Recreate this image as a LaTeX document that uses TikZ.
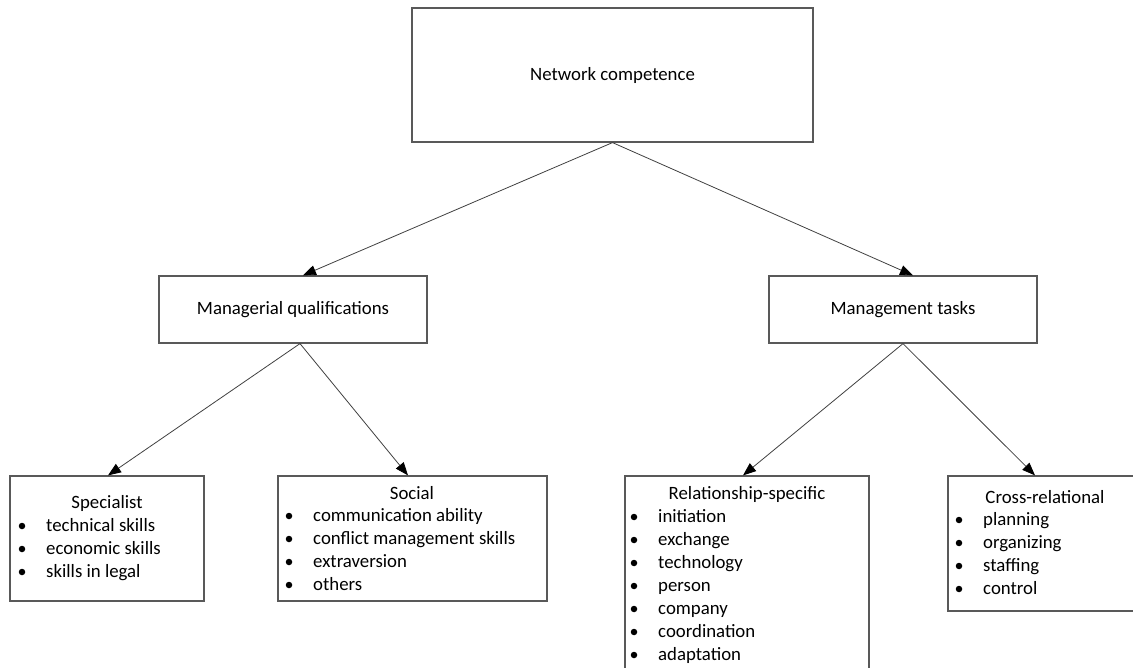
\documentclass[tikz,border=0pt]{standalone}
\usepackage{fontspec}
\setmainfont{Carlito}
\usetikzlibrary{arrows.meta}

\begin{document}
\begin{tikzpicture}[x=1pt, y=-1pt, font=\fontsize{18.8}{23}\selectfont]

	\tikzset{
		box/.style={draw=black!65, line width=1.2pt, inner sep=0pt},
		head/.style={anchor=center, inner sep=0pt},
		dot/.style={circle, fill=black, inner sep=0pt, minimum size=6.5pt},
		entry/.style={anchor=base west, inner sep=0pt},
		link/.style={draw=black!75, line width=0.8pt, -{Triangle[length=13pt, width=10pt, black]}}
	}

	% ---------------------------
	% Helper macro: title and bullet lines inside a box
	% (#1 prefix, #2 title x, #3 title y, #4 bullet x, #5 title, #6 items)
	% ---------------------------
	\newcommand{\drawlist}[6]{%
		\node[head] (#1-t) at (#2,#3) {#5};
		\foreach \t [count=\i] in {#6} {
			\node[dot] (#1-d\i) at (#4,#3+23*\i) {};
			\node[entry] (#1-i\i) at (#4+24,#3+23*\i+5.5) {\t};
		}
	}

	% frame
	\useasboundingbox (0,0) rectangle (1133,668);
	\clip (0,0) rectangle (1133,668);

	% ---------------------------
	% Upper levels
	% ---------------------------
	\node[box, minimum width=401pt, minimum height=134pt] (net) at (612.5,75) {Network competence};
	\node[box, minimum width=268pt, minimum height=67pt] (qual) at (293,309.5) {Managerial qualifications};
	\node[box, minimum width=268pt, minimum height=67pt] (task) at (903,309.5) {Management tasks};

	% ---------------------------
	% Leaf boxes
	% ---------------------------
	\node[box, minimum width=194pt, minimum height=125pt] (spec) at (107,538.5) {};
	\node[box, minimum width=269pt, minimum height=125pt] (soc) at (412.5,538.5) {};
	\node[box, minimum width=244pt, minimum height=210pt] (rel) at (747,581) {};
	\node[box, minimum width=200pt, minimum height=135pt] (cross) at (1048,543.5) {};

	\drawlist{spec}{107}{503}{22}{Specialist}{
		technical skills, economic skills, skills in legal}
	\drawlist{soc}{412}{493}{289}{Social}{
		communication ability, conflict management skills, extraversion, others}
	\drawlist{rel}{747}{494}{634}{Relationship-specific}{
		initiation, exchange, technology, person, company, coordination, adaptation}
	\drawlist{cross}{1045}{497}{959}{Cross-relational}{
		planning, organizing, staffing, control}

	% ---------------------------
	% Connectors
	% ---------------------------
	\draw[link] (net.south) -- ([xshift=10pt]qual.north);
	\draw[link] (net.south) -- ([xshift=10pt]task.north);
	\draw[link] ([xshift=7pt]qual.south) -- ([xshift=1pt]spec.north);
	\draw[link] ([xshift=7pt]qual.south) -- ([xshift=-4.5pt]soc.north);
	\draw[link] (task.south) -- ([xshift=-4pt]rel.north);
	\draw[link] (task.south) -- ([xshift=-13pt]cross.north);

\end{tikzpicture}
\end{document}
